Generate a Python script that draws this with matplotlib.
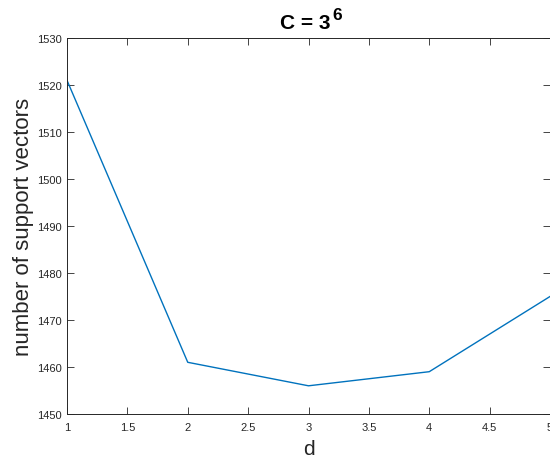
import matplotlib
matplotlib.use("Agg")
import matplotlib.pyplot as plt

d = [1, 2, 3, 4, 5]
n_sv = [1521, 1461, 1456, 1459, 1475]
xticks = [1, 1.5, 2, 2.5, 3, 3.5, 4, 4.5, 5]
yticks = [1450, 1460, 1470, 1480, 1490, 1500, 1510, 1520, 1530]
title_base = 'C = 3'
title_exp = '6'

plt.rcParams['font.family'] = ['Liberation Sans', 'DejaVu Sans']
fig = plt.figure(figsize=(5.5, 4.64), dpi=100)
W, H = 550, 464
ax = fig.add_axes([67 / W, 1 - 415 / H, 483 / W, 376 / H])
ax.plot(d, n_sv, color='#0072BD', lw=1.0)
ax.set_xlim(1, 5)
ax.set_ylim(1450, 1530)
ax.set_xticks(xticks)
ax.set_xticklabels([f"{t:g}" for t in xticks])
ax.set_yticks(yticks)
ax.tick_params(direction='in', top=True, right=True, labelsize=8, length=5, width=0.6,
               color='#262626', labelcolor='#262626')
ax.tick_params(axis='x', pad=6)
ax.tick_params(axis='y', pad=4)
for s in ax.spines.values():
    s.set_color('#262626')
    s.set_linewidth(0.7)
ax.set_xlabel('d', fontsize=15, color='#262626', labelpad=5)
ax.set_ylabel('number of support vectors', fontsize=16, color='#262626', labelpad=2)
fig.text(331 / W, 1 - 29 / H, title_base, fontsize=15, fontweight='bold',
         ha='right', va='baseline')
fig.text(332 / W, 1 - 20 / H, title_exp, fontsize=12.5, fontweight='bold',
         ha='left', va='baseline')
fig.savefig('out.png', dpi=100)
